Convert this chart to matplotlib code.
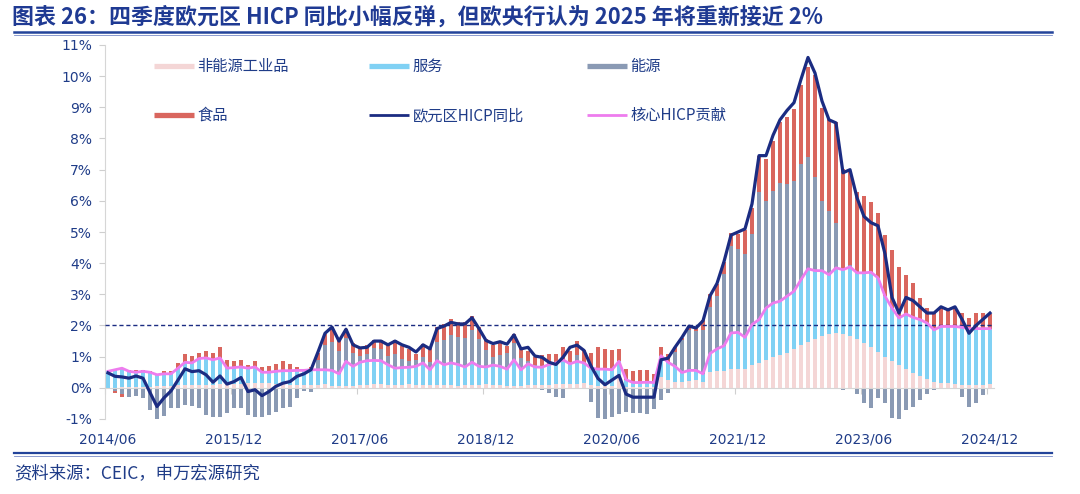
import numpy as np
import pandas as pd
import matplotlib
matplotlib.use('Agg')
import matplotlib.pyplot as plt
from matplotlib.lines import Line2D

# ---------------- data (contributions to euro-area HICP, pp) ----------------
months = pd.period_range('2014-06', '2024-12', freq='M')

hicp = [0.48, 0.37, 0.35, 0.31, 0.38, 0.31, -0.15,
        -0.6, -0.32, -0.1, 0.25, 0.61, 0.52, 0.55, 0.42, 0.18, 0.38, 0.12, 0.2,
        0.33, -0.12, -0.06, -0.25, -0.12, 0.05, 0.15, 0.2, 0.37, 0.45, 0.58, 1.15,
        1.75, 1.95, 1.5, 1.88, 1.38, 1.28, 1.3, 1.5, 1.5, 1.38, 1.5, 1.38,
        1.3, 1.15, 1.38, 1.25, 1.9, 1.98, 2.1, 2.05, 2.05, 2.25, 1.9, 1.52,
        1.42, 1.48, 1.4, 1.7, 1.25, 1.3, 1.02, 0.98, 0.82, 0.75, 0.98, 1.3,
        1.37, 1.2, 0.7, 0.3, 0.1, 0.25, 0.4, -0.2, -0.3, -0.3, -0.3, -0.3,
        0.9, 0.95, 1.3, 1.62, 1.98, 1.92, 2.15, 2.95, 3.35, 4.05, 4.9, 5.0,
        5.1, 5.9, 7.45, 7.45, 8.1, 8.6, 8.9, 9.15, 9.9, 10.6, 10.1, 9.2,
        8.6, 8.5, 6.9, 7.0, 6.1, 5.5, 5.3, 5.2, 4.3, 2.9, 2.4, 2.9,
        2.8, 2.6, 2.4, 2.4, 2.6, 2.5, 2.6, 2.2, 1.75, 2.0, 2.2, 2.4]

core = [0.53, 0.58, 0.63, 0.53, 0.5, 0.53, 0.5,
        0.42, 0.45, 0.45, 0.63, 0.82, 0.8, 0.94, 0.96, 0.9, 0.96, 0.63, 0.65,
        0.67, 0.63, 0.67, 0.5, 0.5, 0.53, 0.55, 0.55, 0.56, 0.56, 0.58, 0.58,
        0.58, 0.56, 0.45, 0.85, 0.69, 0.82, 0.87, 0.88, 0.87, 0.74, 0.63, 0.65,
        0.66, 0.69, 0.8, 0.58, 0.87, 0.74, 0.8, 0.75, 0.67, 0.82, 0.69, 0.67,
        0.73, 0.69, 0.6, 0.9, 0.58, 0.77, 0.67, 0.66, 0.75, 0.8, 0.9, 0.77,
        0.85, 0.8, 0.63, 0.6, 0.6, 0.58, 0.85, 0.26, 0.17, 0.17, 0.18, 0.17,
        1.03, 0.82, 0.69, 0.49, 0.56, 0.56, 0.45, 1.1, 1.25, 1.35, 1.76, 1.78,
        1.62, 2.03, 2.19, 2.56, 2.72, 2.78, 2.94, 3.1, 3.47, 3.82, 3.76, 3.76,
        3.63, 3.85, 3.79, 3.88, 3.69, 3.69, 3.71, 3.53, 2.94, 2.56, 2.24, 2.37,
        2.26, 2.19, 2.08, 1.86, 1.97, 1.97, 1.97, 1.94, 1.9, 1.9, 1.9, 1.9]

neig = [0.01, 0.01, 0.02, 0.03, 0.03, 0.03, 0.03,
        0.05, 0.07, 0.07, 0.08, 0.1, 0.1, 0.1, 0.1, 0.1, 0.12, 0.12, 0.12,
        0.12, 0.15, 0.15, 0.15, 0.15, 0.12, 0.12, 0.1, 0.08, 0.08, 0.08, 0.1,
        0.12, 0.07, 0.05, 0.05, 0.06, 0.1, 0.1, 0.12, 0.12, 0.1, 0.1, 0.1,
        0.12, 0.1, 0.08, 0.08, 0.08, 0.1, 0.1, 0.07, 0.1, 0.1, 0.1, 0.12,
        0.1, 0.1, 0.06, 0.06, 0.07, 0.1, 0.1, 0.1, 0.1, 0.12, 0.12, 0.12,
        0.12, 0.15, 0.1, 0.06, 0.05, 0.06, 0.4, 0.02, 0.02, 0.02, 0.02, 0.02,
        0.35, 0.25, 0.2, 0.2, 0.22, 0.25, 0.2, 0.5, 0.53, 0.55, 0.6, 0.6,
        0.62, 0.72, 0.8, 0.88, 0.98, 1.05, 1.12, 1.25, 1.38, 1.48, 1.56, 1.65,
        1.72, 1.76, 1.72, 1.66, 1.56, 1.45, 1.3, 1.15, 0.98, 0.85, 0.72, 0.6,
        0.48, 0.37, 0.28, 0.2, 0.16, 0.14, 0.12, 0.1, 0.08, 0.08, 0.1, 0.12]

energy = [0.0, -0.1, -0.2, -0.28, -0.26, -0.33, -0.7,
          -1.03, -0.9, -0.66, -0.66, -0.55, -0.58, -0.66, -0.87, -0.95, -0.92, -0.82, -0.66,
          -0.66, -0.87, -0.95, -0.92, -0.87, -0.76, -0.66, -0.62, -0.33, -0.1, -0.12, 0.3,
          0.79, 0.9, 0.72, 0.74, 0.44, 0.19, 0.21, 0.39, 0.38, 0.29, 0.46, 0.28,
          0.21, 0.2, 0.19, 0.25, 0.59, 0.78, 0.91, 0.89, 0.92, 1.04, 0.88, 0.55,
          0.27, 0.36, 0.53, 0.53, 0.38, 0.09, 0.05, -0.06, -0.18, -0.31, -0.32, 0.02,
          0.19, -0.03, -0.45, -0.97, -1.19, -0.93, -0.84, -0.78, -0.82, -0.82, -0.83, -0.69,
          -0.4, -0.17, 0.45, 1.05, 1.3, 1.25, 1.4, 1.5, 1.7, 2.3, 2.78, 2.66,
          2.66, 2.89, 4.08, 3.43, 3.59, 3.78, 3.59, 3.53, 3.7, 3.58, 2.99, 2.23,
          2.04, 1.45, -0.06, 0.05, -0.2, -0.49, -0.65, -0.33, -0.49, -0.98, -1.03, -0.7,
          -0.6, -0.39, -0.2, -0.06, 0.02, 0.02, 0.02, -0.3, -0.63, -0.49, -0.22, 0.0]

food = [-0.03, -0.08, -0.08, 0.05, 0.07, 0.04, 0.05,
        0.0, 0.1, 0.1, 0.18, 0.28, 0.21, 0.18, 0.21, 0.22, 0.34, 0.27, 0.2,
        0.21, 0.1, 0.2, 0.17, 0.21, 0.24, 0.3, 0.22, 0.11, 0.05, 0.1, 0.24,
        0.35, 0.5, 0.36, 0.3, 0.3, 0.26, 0.28, 0.28, 0.3, 0.4, 0.44, 0.42,
        0.38, 0.2, 0.42, 0.45, 0.5, 0.54, 0.5, 0.48, 0.52, 0.44, 0.38, 0.36,
        0.36, 0.46, 0.2, 0.3, 0.32, 0.32, 0.28, 0.38, 0.34, 0.3, 0.4, 0.4,
        0.46, 0.42, 0.48, 0.72, 0.66, 0.64, 0.4, 0.34, 0.36, 0.4, 0.38, 0.26,
        0.27, 0.25, 0.16, 0.06, 0.12, 0.1, 0.32, 0.4, 0.38, 0.38, 0.44, 0.5,
        0.8, 0.86, 1.16, 1.34, 1.61, 1.96, 2.15, 2.31, 2.54, 2.88, 3.28, 3.0,
        2.95, 3.22, 3.22, 2.98, 2.59, 2.46, 2.24, 2.07, 1.96, 1.85, 1.63, 1.24,
        1.1, 0.69, 0.48, 0.54, 0.61, 0.58, 0.58, 0.46, 0.34, 0.5, 0.5, 0.47]

services = list(np.round(np.array(core) - np.array(neig), 3))

target_line = 2.0
tick_months = ['2014/06', '2015/12', '2017/06', '2018/12', '2020/06', '2021/12', '2023/06', '2024/12']

labels = ['非能源工业品', '服务', '能源', '食品', '欧元区HICP同比', '核心HICP贡献']
title = '图表 26：四季度欧元区 HICP 同比小幅反弹，但欧央行认为 2025 年将重新接近 2%'
source = '资料来源：CEIC，申万宏源研究'

# ---------------- style ----------------
C_PINK = '#F4D6D6'
C_BLUE = '#80D1F4'
C_GREY = '#8A9AB4'
C_RED = '#D9665E'
C_NAVY = '#1B2C82'
C_MAG = '#EE7CEE'
C_TEXT = '#1F3C88'
CJK = ['Noto Sans CJK SC', 'DejaVu Sans']

W, H = 1080, 494
fig = plt.figure(figsize=(W / 100, H / 100), dpi=100)
ax = fig.add_axes([104.5 / W, 1 - 419 / H, (993.5 - 104.5) / W, (419 - 45) / H])

x = np.arange(len(months))
pos = np.zeros(len(x))
neg = np.zeros(len(x))
for vals, col in [(neig, C_PINK), (services, C_BLUE), (energy, C_GREY), (food, C_RED)]:
    v = np.asarray(vals, dtype=float)
    bottom = np.where(v >= 0, pos, neg)
    ax.bar(x, v, 0.55, bottom=bottom, color=col, linewidth=0, zorder=2)
    pos = pos + np.where(v >= 0, v, 0)
    neg = neg + np.where(v < 0, v, 0)

ax.axhline(target_line, color=C_NAVY, lw=1.0, ls=(0, (3, 2)), zorder=3)
ax.plot(x, core, color=C_MAG, lw=2.0, zorder=4)
ax.plot(x, hicp, color=C_NAVY, lw=2.3, zorder=5)

ax.set_xlim(-0.5, len(x) - 0.5)
ax.set_ylim(-1, 11)
yt = np.arange(-1, 12)
ax.set_yticks(yt)
ax.set_yticklabels([f'{t}%' for t in yt])
ax.tick_params(axis='y', color='#CFCFCF', labelcolor=C_TEXT, labelsize=10,
               length=4, width=0.8, pad=5)

for s in ['top', 'right']:
    ax.spines[s].set_visible(False)
ax.spines['left'].set_color('#D6D6D6')
ax.spines['bottom'].set_color('#D6D6D6')
ax.spines['bottom'].set_position(('data', 0))

month_str = [m.strftime('%Y/%m') for m in months]
tick_idx = [month_str.index(t) for t in tick_months]
ax.set_xticks(np.array(tick_idx) - 0.5)
ax.tick_params(axis='x', color='#CFCFCF', length=4, width=0.8, labelbottom=False)

sec = ax.secondary_xaxis('bottom')
sec.set_xticks(tick_idx)
sec.set_xticklabels(tick_months)
sec.tick_params(axis='x', length=0, pad=10, labelcolor=C_TEXT, labelsize=10)
sec.spines['bottom'].set_visible(False)

# legends (three columns of two rows)
def h(col, lw):
    return Line2D([], [], color=col, lw=lw, solid_capstyle='butt')

leg_kw = dict(frameon=False, handlelength=2.6, handletextpad=0.25, labelspacing=2.1,
              borderpad=0, borderaxespad=0, loc='upper left',
              prop={'family': CJK, 'size': 11}, labelcolor=C_TEXT,
              bbox_transform=fig.transFigure)
cols = [([h(C_PINK, 3.8), h(C_RED, 3.8)], [labels[0], labels[3]], 154),
        ([h(C_BLUE, 3.8), h(C_NAVY, 2.0)], [labels[1], labels[4]], 369),
        ([h(C_GREY, 3.8), h(C_MAG, 2.0)], [labels[2], labels[5]], 587)]
legs = []
for hs, ls, x0 in cols:
    legs.append(ax.legend(hs, ls, bbox_to_anchor=(x0 / W, 1 - 58 / H), **leg_kw))
ax.legend_ = None
for lg in legs:
    ax.add_artist(lg)

# title, rules, source
fig.text(12 / W, 1 - 17 / H, title, fontsize=15.8, fontweight='bold', color='#1F3A93',
         va='center', ha='left', family=CJK)
fig.add_artist(Line2D([14 / W, 1052 / W], [1 - 32 / H] * 2, transform=fig.transFigure,
                      color='#23449A', lw=1.8))
fig.add_artist(Line2D([14 / W, 1052 / W], [1 - 35 / H] * 2, transform=fig.transFigure,
                      color='#7A8CC8', lw=0.6))
fig.add_artist(Line2D([14 / W, 1052 / W], [1 - 453 / H] * 2, transform=fig.transFigure,
                      color='#23449A', lw=1.6))
fig.add_artist(Line2D([14 / W, 1052 / W], [1 - 456 / H] * 2, transform=fig.transFigure,
                      color='#7A8CC8', lw=0.6))
fig.text(14 / W, 1 - 473 / H, source, fontsize=12.5, color=C_TEXT, va='center', ha='left',
         family=CJK)

fig.savefig('out.png', dpi=100)
